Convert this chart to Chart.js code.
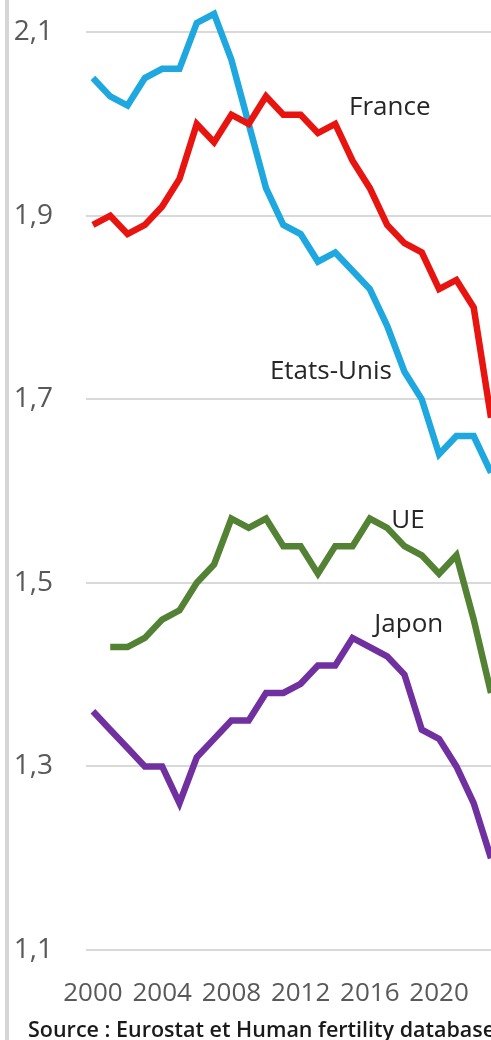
<!DOCTYPE html>
<html>
<head>
<meta charset="utf-8">
<script src="https://cdn.jsdelivr.net/npm/chart.js@4.4.1/dist/chart.umd.min.js"></script>
<style>
  html, body { margin: 0; padding: 0; background: #fff; overflow: hidden; }
  #wrap { position: relative; width: 491px; height: 1040px; }
  #frame { position: absolute; left: 5px; top: 0; width: 4px; height: 1040px; background: #d6d6d6; }
  #source {
    position: absolute; left: 28px; top: 1014px; white-space: nowrap;
    font-family: "Open Sans", sans-serif; font-size: 21.5px; font-weight: 600; color: #1a1a1a;
  }
</style>
</head>
<body>
<div id="wrap">
  <canvas id="chart" width="491" height="1040"></canvas>
  <div id="frame"></div>
  <div id="source">Source : Eurostat et Human fertility database</div>
</div>
<script>
const years = [2000, 2001, 2002, 2003, 2004, 2005, 2006, 2007, 2008, 2009, 2010, 2011,
               2012, 2013, 2014, 2015, 2016, 2017, 2018, 2019, 2020, 2021, 2022, 2023];

const france = [1.89, 1.90, 1.88, 1.89, 1.91, 1.94, 2.00, 1.98, 2.01, 2.00, 2.03, 2.01,
                2.01, 1.99, 2.00, 1.96, 1.93, 1.89, 1.87, 1.86, 1.82, 1.83, 1.80, 1.68];
const etatsUnis = [2.05, 2.03, 2.02, 2.05, 2.06, 2.06, 2.11, 2.12, 2.07, 2.00, 1.93, 1.89,
                   1.88, 1.85, 1.86, 1.84, 1.82, 1.78, 1.73, 1.70, 1.64, 1.66, 1.66, 1.62];
const ue = [null, 1.43, 1.43, 1.44, 1.46, 1.47, 1.50, 1.52, 1.57, 1.56, 1.57, 1.54,
            1.54, 1.51, 1.54, 1.54, 1.57, 1.56, 1.54, 1.53, 1.51, 1.53, 1.46, 1.38];
const japon = [1.36, 1.34, 1.32, 1.30, 1.30, 1.26, 1.31, 1.33, 1.35, 1.35, 1.38, 1.38,
               1.39, 1.41, 1.41, 1.44, 1.43, 1.42, 1.40, 1.34, 1.33, 1.30, 1.26, 1.20];

const yTicks = [1.1, 1.3, 1.5, 1.7, 1.9, 2.1];
const xTicks = [2000, 2004, 2008, 2012, 2016, 2020];

// series name labels drawn next to the curves (year, value)
const seriesLabels = ['France', 'Etats-Unis', 'UE', 'Japon'];
const labelYears = [2017.15, 2013.75, 2018.2, 2018.25];
const labelValues = [2.018, 1.730, 1.568, 1.455];

const FONT = '"Open Sans", sans-serif';

function toPoints(values) {
    return years.map((y, i) => ({ x: y, y: values[i] }));
}

const seriesLabelPlugin = {
    id: 'seriesLabels',
    afterDatasetsDraw(chart) {
        const ctx = chart.ctx;
        const xs = chart.scales.x;
        const ys = chart.scales.y;
        ctx.save();
        ctx.font = '26px ' + FONT;
        ctx.fillStyle = '#262626';
        ctx.textAlign = 'center';
        ctx.textBaseline = 'middle';
        seriesLabels.forEach((txt, i) => {
            ctx.fillText(txt, xs.getPixelForValue(labelYears[i]), ys.getPixelForValue(labelValues[i]));
        });
        ctx.restore();
    }
};

const lineStyle = { borderWidth: 6.5, pointRadius: 0, tension: 0, fill: false };

new Chart(document.getElementById('chart'), {
    type: 'line',
    data: {
        datasets: [
            Object.assign({ label: 'France', data: toPoints(france), borderColor: '#e8140f' }, lineStyle),
            Object.assign({ label: 'Etats-Unis', data: toPoints(etatsUnis), borderColor: '#1fa7df' }, lineStyle),
            Object.assign({ label: 'UE', data: toPoints(ue), borderColor: '#548235' }, lineStyle),
            Object.assign({ label: 'Japon', data: toPoints(japon), borderColor: '#7030a0' }, lineStyle)
        ]
    },
    options: {
        responsive: false,
        animation: false,
        layout: { padding: 0 },
        plugins: {
            legend: { display: false },
            tooltip: { enabled: false }
        },
        scales: {
            x: {
                type: 'linear',
                min: 1999.6,
                max: 2023,
                afterFit(scale) {
                    scale.height = 90;
                    scale.paddingLeft = 0;
                    scale.paddingRight = 0;
                },
                afterBuildTicks(scale) { scale.ticks = xTicks.map(v => ({ value: v })); },
                grid: { display: false },
                border: { display: false },
                ticks: {
                    autoSkip: false,
                    maxRotation: 0,
                    padding: 20,
                    color: '#595959',
                    font: { family: FONT, size: 26 },
                    callback: v => String(v)
                }
            },
            y: {
                min: 1.1,
                max: 2.135,
                afterFit(scale) {
                    scale.width = 86;
                    scale.paddingTop = 0;
                    scale.paddingBottom = 0;
                },
                afterBuildTicks(scale) { scale.ticks = yTicks.map(v => ({ value: v })); },
                grid: { color: '#d9d9d9', lineWidth: 2, drawTicks: false },
                border: { display: false },
                ticks: {
                    padding: 33,
                    color: '#595959',
                    font: { family: FONT, size: 28 },
                    callback: v => v.toFixed(1).replace('.', ',')
                }
            }
        }
    },
    plugins: [seriesLabelPlugin]
});
</script>
</body>
</html>
